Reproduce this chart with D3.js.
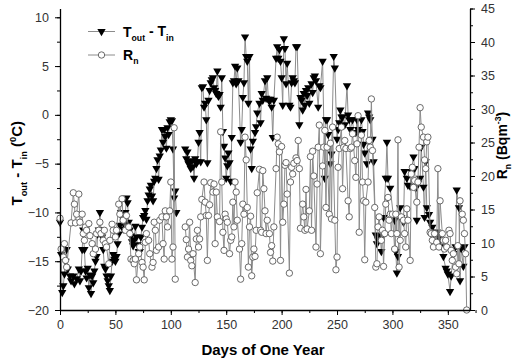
<!DOCTYPE html>
<html>
<head>
<meta charset="utf-8">
<script src="https://cdn.jsdelivr.net/npm/d3@7"></script>
<style>
  body { margin: 0; background: #fff; }
  svg { display: block; font-family: "Liberation Sans", Arial, sans-serif; }
</style>
</head>
<body>
<svg id="chart" width="515" height="361"></svg>
<script>
// tick values
const dayTicks = [0, 50, 100, 150, 200, 250, 300, 350]
const tempTicks = [-20, -15, -10, -5, 0, 5, 10]
const radonTicks = [0, 5, 10, 15, 20, 25, 30, 35, 40, 45]

// T_out - T_in (deg C), [day, value]; null marks the gap in records
const tempDiff = [
  [0,-11],[1,-14.3],[2,-18.2],[3,-17.5],[4,-16.3],[5,-15],[6,-13.8],[7,-15.8],[9,-16.5],[10,-17],
  [12,-16.5],[13,-17.3],[15,-16.8],[17,-15.8],[18,-17],[19,-16],[20,-13.8],[21,-11.8],[22,-13.8],[23,-16],
  [24,-16.7],[25,-15.7],[26,-17.7],[27,-16.4],[28,-18.3],[29,-16.5],[30,-17.2],[31,-16],[32,-15],[33,-14.5],
  [34,-12.2],[35,-11.8],[36,-10],[37,-11.8],[38,-12.5],[39,-13.8],[40,-15.5],[41,-15.8],[42,-16.5],[43,-17],
  [44,-17.5],[45,-18],[46,-16.5],[47,-15],[48,-14.3],[49,-14.8],[50,-15],[51,-14.5],[52,-13.2],[53,-12.2],
  [54,-11.3],[55,-10],[56,-10.5],[57,-11.7],[58,-11.2],[59,-10],[60,-8.5],[61,-9],[62,-11],[63,-11.8],
  [64,-12.4],[65,-13],[66,-13.4],[67,-12.8],[68,-11.4],[69,-12.5],[70,-13.3],[71,-14],[72,-14],[73,-12.5],
  [74,-11.5],[75,-10.5],[76,-10.3],[77,-9.8],[78,-10.7],[79,-8.8],[80,-8.2],[81,-7.6],[82,-7.2],[83,-8.3],
  [84,-8.8],[85,-6.8],[86,-6.5],[87,-5.5],[88,-4.6],[89,-6.6],[90,-4.2],[91,-3.6],[92,-1.5],[93,-2.8],
  [94,-1.5],[95,-2.2],[96,-3.4],[97,-1.3],[98,-2],[99,-0.7],[100,-0.5],[101,-0.6],[102,-3.5],[103,-8.5],
  [104,-7.8],[105,-10],[109,null],
  [113,-3.5],[114,-4.5],[115,-3.8],[116,-5],[117,-4.8],[118,-5.5],[119,-4.7],[120,-5.3],[121,-6.5],[122,-4.5],
  [123,-5],[124,-4.8],[125,-2.8],[126,-1.8],[127,-4.8],[128,2.8],[129,2.9],[130,0.8],[131,1.2],[132,-0.5],
  [133,-4.9],[134,1.5],[135,2.5],[136,3.3],[137,3.6],[138,3.8],[139,2.8],[140,2.5],[141,2.2],[142,4.5],
  [143,1.9],[144,2.1],[145,0.8],[146,3.8],[147,-1.7],[148,-3.2],[149,-4.4],[150,-6.5],[151,-5.2],[152,-3.9],
  [153,-4.9],[154,-6.8],[155,-2.3],[156,3.3],[157,3.5],[158,5],[159,3.2],[160,4.8],[161,3.5],[163,-2.8],
  [164,-1.5],[165,1.8],[166,3.3],[167,8],[168,6],[169,5.5],[170,1.2],[171,6],[172,-3.5],[173,-5.5],
  [174,-2.7],[176,-1.8],[177,-1.2],[178,0.2],[180,1.2],[181,-0.8],[182,2.2],[183,1.5],[185,3.5],[186,1.7],
  [187,3.8],[188,1.6],[189,1.4],[190,1.6],[191,0.8],[192,-2.3],[193,1.5],[195,5.8],[196,7],[197,5.8],
  [198,6.7],[199,5.5],[200,3.8],[201,1],[202,7.8],[203,6.8],[204,3.2],[205,5.3],[207,1],[208,0.8],
  [209,3.3],[210,3.8],[211,3.5],[212,3.3],[213,7],[214,7],[216,-1],[217,1.8],[218,1.5],[219,0.5],
  [220,2.2],[221,1],[222,2.5],[223,2],[224,2.8],[225,1.2],[227,3.2],[228,2.3],[229,3.8],[230,4],
  [231,3.5],[233,0.8],[234,3],[235,2.8],[237,5.5],[239,-6.5],[240,-0.5],[241,-0.5],[242,-2],[244,-5],
  [245,-4],[247,6],[248,4.8],[250,-2.5],[251,-1.5],[252,-0.8],[253,0.5],[254,-0.2],[255,-0.2],[257,-1],
  [259,3],[260,0],[261,-0.5],[262,-1.5],[264,-0.5],[265,-1.8],[267,-1.8],[268,-0.5],[269,-1.5],[270,-1.8],
  [272,-0.5],[273,-1.7],[274,-3],[275,-3.9],[277,-5],[278,0.2],[279,-0.2],[280,-0.5],[282,-2.5],[283,-4.8],
  [285,-12.3],[286,-13.2],[287,-12.8],[289,-12.4],[290,-14],[291,-12.5],[292,-10.5],[294,-6.5],[295,-2.8],[296,-6.5],
  [298,-7.5],[301,-10.5],[302,-10.8],[303,-14],[304,-16.2],[305,-14.5],[307,-9.5],[308,-10.5],[310,-11],[311,-5.8],
  [313,-6.5],[314,-7.2],[316,-7.3],[317,-5.8],[319,-4.3],[320,-5.5],[321,-7.5],[322,-10.8],[323,-7],[325,-6.5],
  [326,-3.3],[328,-7.4],[329,-10.5],[330,-4.8],[331,-9.5],[333,-10.2],[334,-11],[336,-11.5],[337,-12.5],[338,-13.2],
  [340,-12],[342,-12.3],[343,-12.8],[345,-13.5],[346,-14.5],[348,-15.7],[349,-16],[350,-16.3],[352,-18.1],[353,-16.5],
  [355,-14.2],[357,-13.5],[358,-7.7],[360,-9.5],[361,-17],[362,-13.7],[364,-15.5],[365,-13.5]
]

// Rn (Bq m^-3), [day, value]
const radon = [
  [0,13.7],[1,9.1],[3,7.9],[4,9.9],[5,7.4],[6,6.4],[10,13],[12,17.5],[13,15.8],[14,13],
  [15,14.3],[17,17.3],[18,13.1],[20,14.3],[21,11.4],[22,10.4],[23,12.4],[24,11.9],[26,12.9],[27,11.1],
  [29,9.9],[30,8.4],[32,9.1],[33,11.4],[35,11.9],[36,13.1],[37,11.4],[39,10.4],[40,11.9],[41,9.9],
  [42,9.4],[44,6.9],[45,10.4],[47,12.8],[48,11.9],[50,10.9],[51,11.9],[53,15.8],[54,14.3],[56,16.6],
  [57,13.4],[59,11.9],[60,14.1],[62,12.4],[63,11.4],[64,7.6],[66,7.4],[67,6.9],[68,7.6],[69,4.5],
  [71,8.4],[72,9.4],[74,7.1],[75,6.4],[76,4.5],[77,10.1],[78,11.4],[80,10.4],[81,8.4],[83,6.4],
  [84,7.1],[85,13.1],[86,11.9],[87,8.9],[89,9.4],[90,13.4],[92,13.9],[93,9.9],[94,7.6],[95,14.8],
  [96,13.9],[97,12.4],[99,14.8],[100,19.1],[101,7.6],[102,9.4],[103,27.2],[104,4.6],[109,null],
  [113,12.4],[114,10.5],[115,7.9],[116,9.1],[117,13.1],[118,7.4],[119,6.6],[120,8.4],[122,4.1],[123,10.6],
  [124,11.9],[125,9.4],[126,10.6],[127,13.9],[128,16.5],[130,19.1],[131,16.1],[132,14.1],[133,7.4],[134,14.1],
  [135,15.7],[136,19],[138,17.6],[139,18.8],[140,9.9],[141,17.6],[142,13.9],[144,13.2],[145,26.6],[146,19.1],
  [147,11.6],[148,8.9],[149,14.3],[150,13.6],[151,13.1],[153,8.4],[154,10.4],[155,10.9],[156,16.1],[157,12.4],
  [158,19.1],[159,17.6],[160,13.4],[162,9.1],[163,4.6],[164,9.9],[165,15.8],[166,14.3],[167,25.8],[168,22.4],
  [169,15.3],[170,6.4],[171,12.4],[172,14],[173,5.1],[174,7.9],[175,9.1],[176,8],[177,11.9],[178,17.5],
  [180,21],[181,11.9],[182,11.6],[183,20.8],[184,18.1],[185,14.8],[186,11.4],[187,13.4],[189,11.4],[190,8.6],
  [191,9.6],[192,7.3],[193,12.4],[195,21.1],[196,25.8],[197,24.8],[198,23.6],[199,7.4],[200,24.4],[201,13.1],
  [202,15.8],[203,21.6],[204,22],[205,17.3],[207,5.5],[208,19.1],[209,21.3],[210,20.3],[211,21.9],[213,22.7],
  [214,22.3],[215,25.3],[216,21.1],[217,12.2],[219,15.8],[220,13.9],[221,11.9],[222,18],[223,12.1],[225,14.8],
  [226,22.9],[227,11.9],[228,23.7],[229,20],[231,9.4],[232,18.8],[233,24.3],[234,27.6],[235,8.4],[237,21.5],
  [238,24.3],[239,26.8],[240,15.3],[241,24.3],[243,14.3],[244,24.9],[245,13.6],[246,27.3],[248,13.4],[249,6],
  [250,7.9],[251,21.3],[252,24.1],[254,27.3],[255,18.1],[256,24.3],[257,25.3],[258,24.1],[260,16.3],[261,13.9],
  [262,24.1],[263,24.3],[264,26.3],[266,22.3],[267,19.8],[268,24.8],[269,29],[270,11.6],[272,26.1],[273,19.1],
  [274,16.3],[275,7.5],[276,16.1],[278,19.1],[279,25.3],[280,24.3],[281,31.5],[282,23.8],[284,15.3],[285,6.4],
  [286,6.9],[287,12.4],[288,13.9],[290,10.4],[291,11.9],[292,6.5],[293,11.4],[294,15.8],[296,16.8],[297,13.4],
  [298,14.3],[299,11.4],[300,14.3],[302,9.1],[303,14.3],[304,11.4],[305,25.4],[306,6.4],[307,10.4],[308,13.9],
  [310,13.4],[311,11.4],[312,9.4],[313,15.1],[314,13.4],[316,7.4],[317,20.3],[318,21.3],[319,18.3],[320,19.3],
  [322,16.1],[323,19.1],[324,24.3],[325,30.2],[326,27.3],[328,25.8],[329,22.4],[330,21.1],[331,25.1],[332,25.8],
  [334,11.6],[335,11.4],[336,10.4],[337,9.4],[338,11.4],[340,10.1],[341,21.1],[342,9.4],[343,16.3],[345,11.4],
  [346,10.4],[347,9.1],[348,10.4],[349,9.4],[351,11.9],[352,11.4],[353,8.9],[354,7.4],[355,8.4],[357,6.4],
  [358,5.4],[359,9.6],[360,6.9],[361,16.3],[363,14.3],[364,13.4],[365,11.4],[366,8.4],[367,0]
]

const width = 515
const height = 361
const margin = { top: 8.5, right: 45, bottom: 51, left: 60 }
const chartWidth = width - margin.left - margin.right
const chartHeight = height - margin.top - margin.bottom

const svg = d3.select('#chart')
svg.append('rect').attr('width', width).attr('height', height).attr('fill', '#fff')

const viz = svg.append('g').attr('transform', `translate(${margin.left},${margin.top})`)

const x = d3.scaleLinear([0, 370], [0, chartWidth])
const yLeft = d3.scaleLinear([-20, 10.9], [chartHeight, 0])
const yRight = d3.scaleLinear([0, 45], [chartHeight, 0])

const lineColor = '#8c8c8c'
const labelColor = '#333'

// lines
const tLine = d3.line().defined((d) => d[1] !== null).x((d) => x(d[0])).y((d) => yLeft(d[1]))
const rLine = d3.line().defined((d) => d[1] !== null).x((d) => x(d[0])).y((d) => yRight(d[1]))

const triangle = d3.symbol(d3.symbolTriangle, 30)

viz.append('path')
  .attr('d', tLine(tempDiff))
  .attr('fill', 'none')
  .attr('stroke', lineColor)
  .attr('stroke-width', 1)

viz.append('g')
  .attr('id', 'temp-points')
  .selectAll('path')
  .data(tempDiff.filter((d) => d[1] !== null))
  .join('path')
  .attr('d', triangle)
  .attr('transform', (d) => `translate(${x(d[0])},${yLeft(d[1])}) rotate(180)`)
  .attr('fill', '#000')

viz.append('path')
  .attr('d', rLine(radon))
  .attr('fill', 'none')
  .attr('stroke', lineColor)
  .attr('stroke-width', 1)

viz.append('g')
  .attr('id', 'radon-points')
  .selectAll('circle')
  .data(radon.filter((d) => d[1] !== null))
  .join('circle')
  .attr('cx', (d) => x(d[0]))
  .attr('cy', (d) => yRight(d[1]))
  .attr('r', 3.2)
  .attr('fill', '#fff')
  .attr('stroke', '#5a5a5a')
  .attr('stroke-width', 0.9)

// axes
function styleAxis(g) {
  g.select('.domain').attr('stroke', '#000').attr('stroke-width', 1.3)
  g.selectAll('.tick line').attr('stroke', '#000').attr('stroke-width', 1)
  g.selectAll('.tick text')
    .attr('fill', labelColor)
    .style('font-size', '12.5px')
    .style('font-family', '"Liberation Sans", Arial, sans-serif')
}

function minor(values, step) {
  return d3.range(values[0], values[values.length - 1] + step / 2, step / 2)
}

// x axis
viz.append('g')
  .attr('transform', `translate(0,${chartHeight})`)
  .call(d3.axisBottom(x).tickValues(minor(dayTicks, 50).concat([375])).tickSize(3).tickFormat(''))
  .call((g) => g.select('.domain').remove())
  .call((g) => g.selectAll('.tick line').attr('stroke', '#000'))
viz.append('g')
  .attr('transform', `translate(0,${chartHeight})`)
  .call(d3.axisBottom(x).tickValues(dayTicks).tickSize(5).tickPadding(5).tickSizeOuter(0))
  .call(styleAxis)

// left axis
viz.append('g')
  .call(d3.axisLeft(yLeft).tickValues(minor(tempTicks, 5)).tickSize(3).tickFormat(''))
  .call((g) => g.select('.domain').remove())
  .call((g) => g.selectAll('.tick line').attr('stroke', '#000'))
viz.append('g')
  .call(d3.axisLeft(yLeft).tickValues(tempTicks).tickSize(5).tickPadding(6).tickSizeOuter(0))
  .call(styleAxis)

// right axis
viz.append('g')
  .attr('transform', `translate(${chartWidth},0)`)
  .call(d3.axisRight(yRight).tickValues(minor(radonTicks, 5)).tickSize(3).tickFormat(''))
  .call((g) => g.select('.domain').remove())
  .call((g) => g.selectAll('.tick line').attr('stroke', '#000'))
viz.append('g')
  .attr('transform', `translate(${chartWidth},0)`)
  .call(d3.axisRight(yRight).tickValues(radonTicks).tickSize(5).tickPadding(6).tickSizeOuter(0))
  .call(styleAxis)

// axis titles
svg.append('text')
  .attr('x', margin.left + chartWidth / 2 - 2)
  .attr('y', 355)
  .attr('text-anchor', 'middle')
  .style('font-size', '15px')
  .style('font-weight', 'bold')
  .text('Days of One Year')

function richText(sel, parts, size) {
  parts.forEach((p) => {
    const t = sel.append('tspan').text(p.text)
    if (p.sub) t.attr('dy', size * 0.3).style('font-size', size * 0.62 + 'px')
    else if (p.sup) t.attr('dy', -size * 0.4).style('font-size', size * 0.62 + 'px')
    if (p.back) t.attr('dy', p.back)
  })
}

const leftTitle = svg.append('text')
  .attr('transform', `translate(22,${margin.top + chartHeight / 2 + 4}) rotate(-90)`)
  .attr('text-anchor', 'middle')
  .style('font-size', '15px')
  .style('font-weight', 'bold')
richText(leftTitle, [
  { text: 'T' }, { text: 'out', sub: true }, { text: ' - T', back: -4.5 },
  { text: 'in', sub: true }, { text: ' (', back: -4.5 }, { text: '0', sup: true },
  { text: 'C)', back: 6 }
], 15)

const rightTitle = svg.append('text')
  .attr('transform', `translate(507,${margin.top + 137}) rotate(-90)`)
  .attr('text-anchor', 'middle')
  .style('font-size', '14px')
  .style('font-weight', 'bold')
richText(rightTitle, [
  { text: 'R' }, { text: 'n', sub: true }, { text: '  (Bqm', back: -4.2 },
  { text: '-3', sup: true }, { text: ')', back: 5.6 }
], 14)

// legend
const legendItems = [
  { key: 'temp', y: 31.5, parts: [{ text: 'T' }, { text: 'out', sub: true }, { text: ' - T', back: -4.3 }, { text: 'in', sub: true }] },
  { key: 'radon', y: 55, parts: [{ text: 'R' }, { text: 'n', sub: true }] }
]
const legend = svg.append('g').attr('id', 'legend')
legendItems.forEach((item) => {
  const g = legend.append('g').attr('transform', `translate(88,${item.y})`)
  g.append('line').attr('x1', 0).attr('x2', 27).attr('stroke', lineColor).attr('stroke-width', 1)
  if (item.key === 'temp') {
    g.append('path').attr('d', triangle).attr('transform', 'translate(13.5,0) rotate(180)').attr('fill', '#000')
  } else {
    g.append('circle').attr('cx', 13.5).attr('r', 3.2).attr('fill', '#fff').attr('stroke', '#5a5a5a').attr('stroke-width', 0.9)
  }
  const t = g.append('text')
    .attr('x', 35)
    .attr('y', 5)
    .style('font-size', '14px')
    .style('font-weight', 'bold')
  richText(t, item.parts, 14)
})
</script>
</body>
</html>
